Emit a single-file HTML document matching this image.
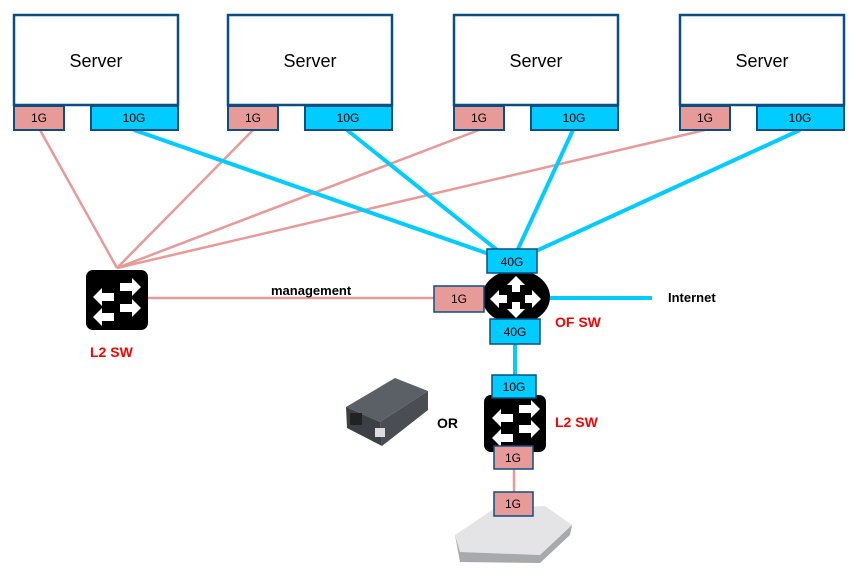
<!DOCTYPE html>
<html><head><meta charset="utf-8"><style>
html,body{margin:0;padding:0;background:#fff;}
svg text{font-family:"Liberation Sans",sans-serif;}
</style></head><body>
<svg width="856" height="572" viewBox="0 0 856 572" xmlns="http://www.w3.org/2000/svg">
<defs>
<g id="srv">
<rect x="0" y="0" width="164" height="90" fill="#fff" stroke="#0b4f82" stroke-width="2.5"/>
<text x="82" y="52" font-size="18" text-anchor="middle" fill="#000">Server</text>
<rect x="0" y="91" width="50" height="24" fill="#e89a98" stroke="#0b4f82" stroke-width="2"/>
<text x="25" y="107" font-size="12" text-anchor="middle">1G</text>
<rect x="77" y="91" width="87" height="24" fill="#00ccff" stroke="#0b4f82" stroke-width="2"/>
<text x="120" y="107" font-size="12" text-anchor="middle">10G</text>
</g>
</defs>
<!-- pink lines -->
<g stroke="#e89a98" stroke-width="2.5">
<line x1="40" y1="130" x2="117" y2="268"/>
<line x1="253" y1="130" x2="117" y2="268"/>
<line x1="479" y1="130" x2="117" y2="268"/>
<line x1="705" y1="130" x2="117" y2="268"/>
<line x1="148" y1="298" x2="434" y2="298"/>
<line x1="514" y1="469" x2="514" y2="493"/>
</g>
<!-- blue lines -->
<g stroke="#00ccff" stroke-width="4">
<line x1="134" y1="130" x2="512" y2="262"/>
<line x1="347" y1="130" x2="512" y2="262"/>
<line x1="573" y1="130" x2="512" y2="262"/>
<line x1="800" y1="130" x2="512" y2="262"/>
<line x1="545" y1="298" x2="652" y2="298"/>
<line x1="515" y1="344" x2="515" y2="376"/>
</g>
<use href="#srv" transform="translate(14,15)"/>
<use href="#srv" transform="translate(228,15)"/>
<use href="#srv" transform="translate(454,15)"/>
<use href="#srv" transform="translate(680,15)"/>
<!-- L2 SW left -->
<rect x="86" y="270" width="62" height="60" rx="7" fill="#000"/>
<g fill="#fff">
<polygon points="120,283 132,283 132,278 141,287 132,296 132,291 120,291"/>
<polygon points="120,304 132,304 132,299 141,308 132,317 132,312 120,312"/>
<polygon points="114,293 102,293 102,288 93,297 102,306 102,301 114,301"/>
<polygon points="114,313 102,313 102,308 93,317 102,326 102,321 114,321"/>
</g>
<text x="90" y="357" font-size="14" font-weight="bold" fill="#ff0000">L2 SW</text>
<text x="271" y="295" font-size="13" font-weight="bold">management</text>
<!-- OF SW -->
<ellipse cx="516" cy="297" rx="34" ry="27" fill="#000"/>
<g fill="#fff">
<polygon points="516,276 525,285 520,285 520,292 512,292 512,285 507,285"/>
<polygon points="516,318 525,309 520,309 520,302 512,302 512,309 507,309"/>
<polygon points="490,299 499,290 499,295 507,295 507,303 499,303 499,308"/>
<polygon points="541,299 532,290 532,295 525,295 525,303 532,303 532,308"/>
</g>
<rect x="487" y="249" width="50" height="24" fill="#00ccff" stroke="#0b4f82" stroke-width="1.5"/>
<text x="512" y="266" font-size="12" text-anchor="middle">40G</text>
<rect x="434" y="286" width="50" height="26" fill="#e89a98" stroke="#0b4f82" stroke-width="1.5"/>
<text x="459" y="303" font-size="12" text-anchor="middle">1G</text>
<rect x="490" y="319" width="50" height="25" fill="#00ccff" stroke="#0b4f82" stroke-width="1.5"/>
<text x="515" y="336" font-size="12" text-anchor="middle">40G</text>
<text x="555" y="327" font-size="14" font-weight="bold" fill="#ff0000">OF SW</text>
<text x="668" y="302" font-size="13" font-weight="bold">Internet</text>
<!-- L2 SW bottom -->
<rect x="484" y="395" width="62" height="57" rx="7" fill="#000"/>
<g fill="#fff">
<polygon points="519,405 531,405 531,400 540,409 531,418 531,413 519,413"/>
<polygon points="519,425 531,425 531,420 540,429 531,438 531,433 519,433"/>
<polygon points="513,414 501,414 501,409 492,418 501,427 501,422 513,422"/>
<polygon points="513,434 501,434 501,429 492,438 501,447 501,442 513,442"/>
</g>
<rect x="492" y="375" width="44" height="23" fill="#00ccff" stroke="#0b4f82" stroke-width="1.5"/>
<text x="514" y="391" font-size="12" text-anchor="middle">10G</text>
<rect x="494" y="446" width="39" height="23" fill="#e89a98" stroke="#0b4f82" stroke-width="1.5"/>
<text x="513" y="462" font-size="12" text-anchor="middle">1G</text>
<text x="555" y="427" font-size="14" font-weight="bold" fill="#ff0000">L2 SW</text>
<text x="437" y="428" font-size="14" font-weight="bold">OR</text>
<!-- media converter -->
<polygon points="346,407 395,378 428,391 380,422" fill="#5b6066"/>
<polygon points="346,407 380,422 382,446 347,428" fill="#3c4045"/>
<polygon points="380,422 428,391 428,410 382,446" fill="#4a4e53"/>
<rect x="350" y="413" width="12" height="12" fill="#222"/>
<rect x="375" y="428" width="10" height="9" fill="#ddd"/>
<!-- access point -->
<polygon points="455,535 495,508 545,506 572,525 540,555 460,552" fill="#e4e4e6"/>
<polygon points="455,535 460,552 540,555 572,525 570,535 540,563 460,562" fill="#a8a9ad"/>
<rect x="494" y="492" width="39" height="24" fill="#e89a98" stroke="#0b4f82" stroke-width="1.5"/>
<text x="513" y="508" font-size="12" text-anchor="middle">1G</text>
</svg>
</body></html>
